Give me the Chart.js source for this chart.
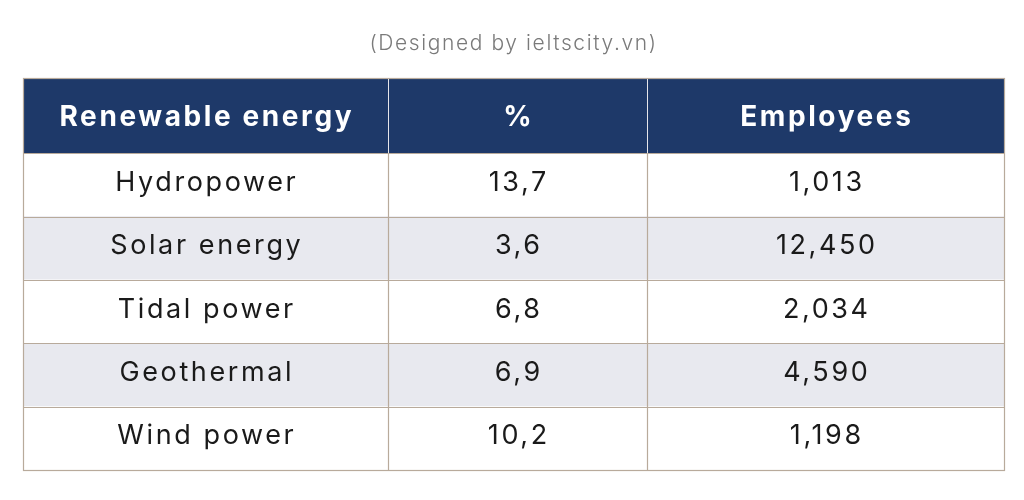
<!DOCTYPE html>
<html>
<head>
<meta charset="utf-8">
<script src="https://cdn.jsdelivr.net/npm/chart.js@4"></script>
<style>
  body { margin: 0; background: #fff; }
  #wrap { width: 1024px; height: 500px; }
</style>
</head>
<body>
<div id="wrap"><canvas id="tableChart"></canvas></div>
<script>
const headers = ['Renewable energy', '%', 'Employees'];
const categories = ['Hydropower', 'Solar energy', 'Tidal power', 'Geothermal', 'Wind power'];
const percentValues = [13.7, 3.6, 6.8, 6.9, 10.2];
const employeeValues = [1013, 12450, 2034, 4590, 1198];

// layout bits (not data)
const colWidths = [365, 259, 357];
const tableWidth = colWidths.reduce((a, b) => a + b, 0);
const headerHeight = 75;
const fontFamily = 'Inter, "Open Sans", sans-serif';
const navy = '#1e3969';
const stripe = '#e8e9ef';
const lineColor = '#b8aa9b';

function fmtPercent(v) {
  return v.toFixed(1).replace('.', ',');
}
function fmtEmployees(v) {
  return v.toLocaleString('en-US');
}

// centered text with letter spacing (spacing adds a trailing gap, shift back)
function spacedText(ctx, text, x, y, spacing) {
  ctx.letterSpacing = spacing + 'px';
  ctx.fillText(text, x + spacing / 2, y);
  ctx.letterSpacing = '0px';
}

const tablePlugin = {
  id: 'tablePlugin',
  beforeDraw(chart) {
    chart.ctx.letterSpacing = '1.6px';
  },
  afterDatasetsDraw(chart) {
    const ctx = chart.ctx;
    const xs = chart.scales.x;
    const ys = chart.scales.y;
    const area = chart.chartArea;
    const edges = [0];
    colWidths.forEach(w => edges.push(edges[edges.length - 1] + w));
    const xEdges = edges.map(e => xs.getPixelForValue(e));
    const bandH = (area.bottom - area.top) / categories.length;
    const headTop = area.top - headerHeight;

    ctx.save();
    // header
    ctx.fillStyle = navy;
    ctx.fillRect(xEdges[0], headTop, xEdges[3] - xEdges[0], headerHeight);
    ctx.strokeStyle = '#e6e6ea';
    ctx.lineWidth = 1;
    for (let i = 1; i < 3; i++) {
      ctx.beginPath();
      ctx.moveTo(Math.round(xEdges[i]) + 0.5, headTop);
      ctx.lineTo(Math.round(xEdges[i]) + 0.5, area.top);
      ctx.stroke();
    }
    ctx.fillStyle = '#ffffff';
    ctx.font = '700 28px ' + fontFamily;
    ctx.textAlign = 'center';
    ctx.textBaseline = 'middle';
    headers.forEach((h, i) => {
      spacedText(ctx, h, (xEdges[i] + xEdges[i + 1]) / 2, headTop + headerHeight / 2 + 2, 2.6);
    });

    // grid lines
    ctx.strokeStyle = lineColor;
    ctx.lineWidth = 1.2;
    categories.forEach((c, i) => {
      const y = Math.round(ys.getPixelForValue(i) - bandH / 2) + 0.5;
      ctx.beginPath();
      ctx.moveTo(xEdges[0], y);
      ctx.lineTo(xEdges[3], y);
      ctx.stroke();
    });
    for (let i = 1; i < 3; i++) {
      ctx.beginPath();
      ctx.moveTo(Math.round(xEdges[i]) + 0.5, area.top);
      ctx.lineTo(Math.round(xEdges[i]) + 0.5, area.bottom);
      ctx.stroke();
    }
    ctx.strokeRect(Math.round(xEdges[0]) + 0.5, Math.round(headTop) + 0.5,
      Math.round(xEdges[3] - xEdges[0]), Math.round(area.bottom - headTop));

    // cell text
    ctx.fillStyle = '#1a1a1a';
    ctx.font = '400 27px ' + fontFamily;
    categories.forEach((c, i) => {
      const y = ys.getPixelForValue(i) - 2;
      const cells = [c, fmtPercent(percentValues[i]), fmtEmployees(employeeValues[i])];
      cells.forEach((t, j) => {
        spacedText(ctx, t, (xEdges[j] + xEdges[j + 1]) / 2, y, 2.6);
      });
    });
    ctx.restore();
  }
};

const ctx = document.getElementById('tableChart').getContext('2d');
const tableChart = new Chart(ctx, {
  type: 'bar',
  data: {
    labels: categories,
    datasets: [{
      data: categories.map(() => [0, tableWidth]),
      backgroundColor: categories.map((c, i) => i % 2 ? stripe : '#ffffff'),
      borderWidth: 0,
      barPercentage: 1,
      categoryPercentage: 1
    }]
  },
  options: {
    indexAxis: 'y',
    responsive: true,
    maintainAspectRatio: false,
    animation: false,
    layout: { padding: { left: 23, right: 20, top: 0, bottom: 30 } },
    scales: {
      x: { type: 'linear', min: 0, max: tableWidth, display: false },
      y: { type: 'category', display: false }
    },
    plugins: {
      legend: { display: false },
      tooltip: { enabled: false },
      title: {
        display: true,
        text: '(Designed by ieltscity.vn)',
        color: '#7a7a7a',
        font: { family: fontFamily, size: 21, weight: '300' },
        padding: { top: 31, bottom: 22 + headerHeight }
      }
    }
  },
  plugins: [tablePlugin]
});
</script>
</body>
</html>
